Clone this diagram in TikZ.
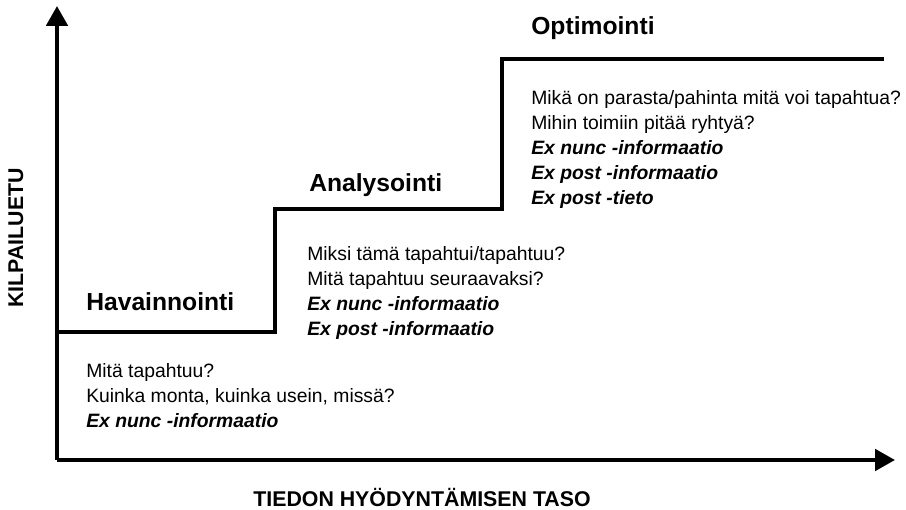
\documentclass[tikz,border=0pt]{standalone}
\usepackage{fontspec}
\setmainfont{Liberation Sans}
\usetikzlibrary{arrows.meta,positioning}

\tikzset{
  stairline/.style={line width=3pt},
  axisline/.style={line width=3pt, -{Triangle[length=15pt,width=16pt]}},
  stagetitle/.style={font=\fontsize{18.5}{22}\selectfont\bfseries, anchor=base west, inner sep=0pt},
  stagetext/.style={font=\fontsize{14.5}{18.75}\selectfont, anchor=north west, align=left, inner sep=0pt},
  axislabel/.style={font=\fontsize{16}{19}\selectfont\bfseries, inner sep=0pt}
}

\begin{document}
\begin{tikzpicture}[x=0.75pt, y=-0.75pt]
        \useasboundingbox (0,0) rectangle (906,510);
        % axes
        \coordinate (origin) at (57,460);
        \coordinate (ytip) at (57,6);
        \coordinate (xtip) at (895,460);
        \draw[axisline] (origin) -- (ytip);
        \draw[axisline] (origin) -- (xtip);
        \node[axislabel, rotate=90] (yname) at (16,238) {KILPAILUETU};
        \node[axislabel, anchor=base] (xname) at (422,506) {TIEDON HYÖDYNTÄMISEN TASO};
        % stairs
        \coordinate (s0) at (57,332);
        \coordinate (s1) at (275,209);
        \coordinate (s2) at (502,59);
        \coordinate (s3) at (884,59);
        \draw[stairline] (s0) -| (s1) -| (s2) -- (s3);
        % stage 1
        \node[stagetitle] (havt) at (86,310) {Havainnointi};
        \node[stagetext] (havx) at (86,363) {Mitä tapahtuu?\\
            Kuinka monta, kuinka usein, missä?\\
            \textbf{\textit{Ex nunc -informaatio}}};
        % stage 2
        \node[stagetitle] (anat) at (309,191) {Analysointi};
        \node[stagetext] (anax) at (307,246) {Miksi tämä tapahtui/tapahtuu?\\
            Mitä tapahtuu seuraavaksi?\\
            \textbf{\textit{Ex nunc -informaatio}}\\
            \textbf{\textit{Ex post -informaatio}}};
        % stage 3
        \node[stagetitle] (optt) at (531,35) {Optimointi};
        \node[stagetext] (optx) at (531,90) {Mikä on parasta/pahinta mitä voi tapahtua?\\
            Mihin toimiin pitää ryhtyä?\\
            \textbf{\textit{Ex nunc -informaatio}}\\
            \textbf{\textit{Ex post -informaatio}}\\
            \textbf{\textit{Ex post -tieto}}};
\end{tikzpicture}
\end{document}
